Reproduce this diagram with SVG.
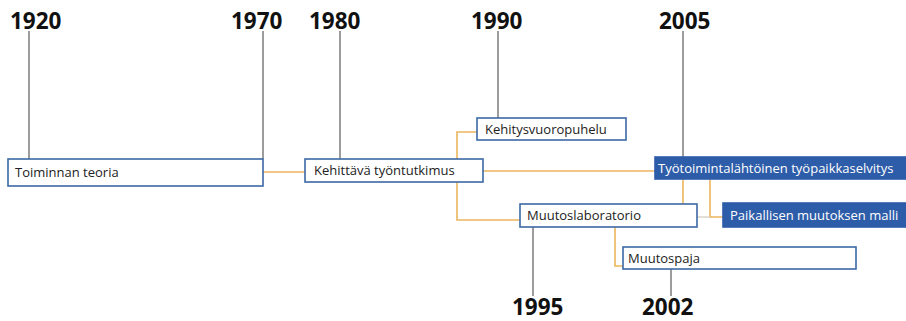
<svg xmlns="http://www.w3.org/2000/svg" width="906" height="321" viewBox="0 0 906 321">
<style>
.yr{font-family:"Open Sans","Noto Sans",sans-serif;font-weight:bold;font-size:22.5px;fill:#111}
.tick{stroke:#3a3a3a;stroke-width:1;fill:none}
.box{fill:#fff;stroke:#3b6aa6;stroke-width:1.6}
.bbox{fill:#2d5ca9;stroke:#2d5ca9;stroke-width:1.6}
.lbl{font-family:"Open Sans","Noto Sans",sans-serif;font-size:13px;fill:#222}
.wlbl{font-family:"Open Sans","Noto Sans",sans-serif;font-size:13px;fill:#fff}
.con{stroke:#ebb55c;stroke-width:1.6;fill:none}
</style>
<rect width="906" height="321" fill="#fff"/>
<g id="years">
<text class="yr" x="10" y="29">1920</text>
<text class="yr" x="231" y="29">1970</text>
<text class="yr" x="309" y="29">1980</text>
<text class="yr" x="471" y="29">1990</text>
<text class="yr" x="659" y="29">2005</text>
<text class="yr" x="512" y="315">1995</text>
<text class="yr" x="642" y="315">2002</text>
</g>
<g id="ticks">
<line class="tick" x1="29" y1="31" x2="29" y2="159"/>
<line class="tick" x1="263" y1="31" x2="263" y2="159"/>
<line class="tick" x1="340" y1="31" x2="340" y2="159"/>
<line class="tick" x1="498" y1="31" x2="498" y2="118"/>
<line class="tick" x1="683" y1="31" x2="683" y2="157"/>
<line class="tick" x1="533" y1="227" x2="533" y2="296"/>
<line class="tick" x1="671" y1="269" x2="671" y2="296"/>
</g>
<g id="connectors">
<line class="con" x1="263" y1="172" x2="305" y2="172"/>
<polyline class="con" points="457,159 457,132 477,132"/>
<polyline class="con" points="457,182 457,220 520,220"/>
<line class="con" x1="483" y1="171" x2="655" y2="171"/>
<line class="con" x1="683" y1="179" x2="683" y2="204"/>
<polyline class="con" points="710,179 710,217 723,217"/>
<line x1="697" y1="217" x2="710" y2="217" stroke="#d9d2c4" stroke-width="1.4"/>
<polyline class="con" points="615,227 615,266 623,266"/>
</g>
<g id="n1"><rect class="box" x="8" y="159" width="255" height="27"/><text class="lbl" x="15" y="177">Toiminnan teoria</text></g>
<g id="n2"><rect class="box" x="305" y="159" width="178" height="23"/><text class="lbl" x="314" y="175">Kehittävä työntutkimus</text></g>
<g id="n3"><rect class="box" x="477" y="118" width="149" height="22"/><text class="lbl" x="485" y="134">Kehitysvuoropuhelu</text></g>
<g id="n4"><rect class="box" x="520" y="204" width="177" height="23"/><text class="lbl" x="527" y="220">Muutoslaboratorio</text></g>
<g id="n5"><rect class="bbox" x="655" y="157" width="251" height="22"/><text class="wlbl" x="658" y="173">Työtoimintalähtöinen työpaikkaselvitys</text></g>
<g id="n6"><rect class="bbox" x="723" y="203" width="183" height="24"/><text class="wlbl" x="730" y="220">Paikallisen muutoksen malli</text></g>
<g id="n7"><rect class="box" x="623" y="247" width="233" height="22"/><text class="lbl" x="628" y="263">Muutospaja</text></g>
</svg>
